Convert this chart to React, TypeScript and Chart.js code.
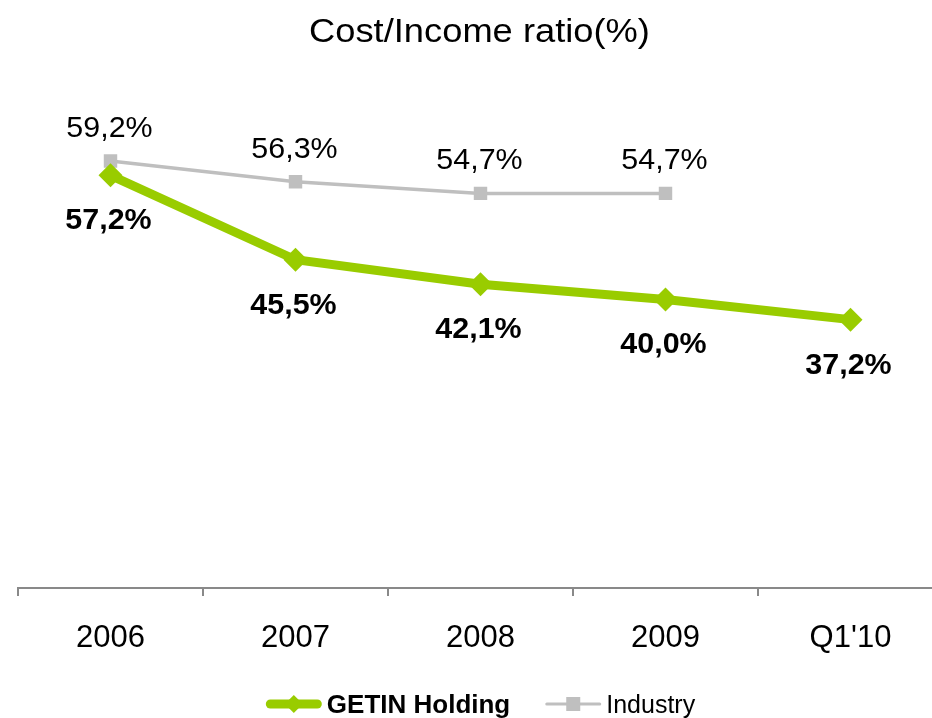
import React, { useEffect, useRef } from "react";
import { Chart, registerables } from "chart.js";

Chart.register(...registerables);

const categories = ["2006", "2007", "2008", "2009", "Q1'10"];
const getinValues = [57.2, 45.5, 42.1, 40.0, 37.2];
const industryValues: (number | null)[] = [59.2, 56.3, 54.7, 54.7, null];
const seriesNames = ["GETIN Holding", "Industry"];
const titleText = "Cost/Income ratio(%)";

const GREEN = "#99CC00";
const GRAY = "#BFBFBF";
const FONT = "'Liberation Sans', Arial, sans-serif";

const fmt = (v: number) => v.toFixed(1).replace(".", ",") + "%";

function stretchText(ctx: any, text: string, x: number, y: number, sx: number) {
  ctx.save();
  ctx.translate(x, y);
  ctx.scale(sx, 1);
  ctx.fillText(text, 0, 0);
  ctx.restore();
}

const overlayPlugin = {
  id: "overlay",
  afterDatasetsDraw(chart: any) {
    const ctx = chart.ctx;
    const area = chart.chartArea;
    ctx.save();
    // data labels
    chart.data.datasets.forEach((ds: any, di: number) => {
      const meta = chart.getDatasetMeta(di);
      meta.data.forEach((pt: any, i: number) => {
        const v = ds.data[i];
        if (v === null || v === undefined) return;
        ctx.textAlign = "center";
        ctx.textBaseline = "alphabetic";
        ctx.fillStyle = "#000";
        if (di === 0) {
          ctx.font = `bold 29px ${FONT}`;
          stretchText(ctx, fmt(v), pt.x - 2, pt.y + 54, 1.05);
        } else {
          ctx.font = `29px ${FONT}`;
          stretchText(ctx, fmt(v), pt.x - 1, pt.y - 24, 1.05);
        }
      });
    });
    // title
    const cx = (area.left + area.right) / 2;
    ctx.font = `33px ${FONT}`;
    ctx.textAlign = "center";
    ctx.textBaseline = "alphabetic";
    ctx.fillStyle = "#000";
    stretchText(ctx, titleText, cx - 1, 42, 1.1);
    // legend
    const items = [
      { name: seriesNames[0], color: GREEN, lw: 9, bold: true, marker: "diamond", fs: 26 },
      { name: seriesNames[1], color: GRAY, lw: 3, bold: false, marker: "square", fs: 25 },
    ];
    const sampleW = 56;
    const gapText = 5;
    const gapItem = 35;
    const widths = items.map((it) => {
      ctx.font = `${it.bold ? "bold " : ""}${it.fs}px ${FONT}`;
      return ctx.measureText(it.name).width;
    });
    const total = items.reduce((s, _it, i) => s + sampleW + gapText + widths[i], 0) + gapItem;
    let x = cx - total / 2;
    const ly = 704;
    items.forEach((it, i) => {
      ctx.strokeStyle = it.color;
      ctx.lineWidth = it.lw;
      ctx.lineCap = "round";
      const cap = it.lw / 2;
      ctx.beginPath();
      ctx.moveTo(x + cap, ly);
      ctx.lineTo(x + sampleW - cap, ly);
      ctx.stroke();
      ctx.fillStyle = it.color;
      const mx = x + sampleW / 2;
      if (it.marker === "diamond") {
        const r = 9;
        ctx.beginPath();
        ctx.moveTo(mx, ly - r);
        ctx.lineTo(mx + r, ly);
        ctx.lineTo(mx, ly + r);
        ctx.lineTo(mx - r, ly);
        ctx.closePath();
        ctx.fill();
      } else {
        ctx.fillRect(mx - 7, ly - 7, 14, 14);
      }
      x += sampleW + gapText;
      ctx.font = `${it.bold ? "bold " : ""}${it.fs}px ${FONT}`;
      ctx.fillStyle = "#000";
      ctx.textAlign = "left";
      ctx.textBaseline = "alphabetic";
      ctx.fillText(it.name, x, 713);
      x += widths[i] + gapItem;
    });
    ctx.restore();
  },
};

export default function App() {
  const ref = useRef<HTMLCanvasElement>(null);
  useEffect(() => {
    if (!ref.current) return;
    const chart = new Chart(ref.current, {
      type: "line",
      data: {
        labels: categories,
        datasets: [
          {
            label: seriesNames[0],
            data: getinValues,
            borderColor: GREEN,
            backgroundColor: GREEN,
            borderWidth: 9,
            pointStyle: "rectRot",
            pointRadius: 12,
            pointBorderWidth: 0,
            pointBackgroundColor: GREEN,
            tension: 0,
            order: 1,
          },
          {
            label: seriesNames[1],
            data: industryValues,
            borderColor: GRAY,
            backgroundColor: GRAY,
            borderWidth: 3.5,
            pointStyle: "rect",
            pointRadius: 9.5,
            pointBorderWidth: 0,
            pointBackgroundColor: GRAY,
            tension: 0,
            spanGaps: false,
            order: 2,
          },
        ],
      },
      options: {
        responsive: false,
        animation: false,
        devicePixelRatio: 1,
        layout: { padding: { left: 18, right: 17, top: 83, bottom: 0 } },
        plugins: {
          legend: { display: false },
          title: { display: false },
          tooltip: { enabled: false },
        },
        scales: {
          x: {
            type: "category",
            offset: true,
            grid: {
              offset: true,
              display: true,
              drawOnChartArea: false,
              drawTicks: true,
              tickLength: 8,
              color: "#898989",
              lineWidth: 2,
            },
            border: { display: true, color: "#898989", width: 2 },
            ticks: {
              color: "#000",
              font: { size: 31, family: FONT },
              padding: 24,
              maxRotation: 0,
              autoSkip: false,
            },
            afterFit: (scale: any) => {
              scale.height = 130;
            },
          },
          y: {
            display: false,
            min: 0,
            max: 70,
          },
        },
      },
      plugins: [overlayPlugin],
    });
    return () => chart.destroy();
  }, []);
  return (
    <div style={{ position: "fixed", left: 0, top: 0, width: 960, height: 718, overflow: "hidden" }}>
      <canvas ref={ref} width={960} height={718} style={{ display: "block" }} />
    </div>
  );
}
